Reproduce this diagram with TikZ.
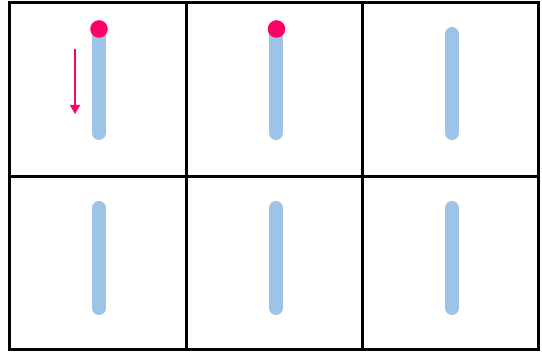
\documentclass[tikz,border=0pt]{standalone}
\usetikzlibrary{arrows.meta}
\definecolor{barblue}{HTML}{9DC3E6}
\definecolor{dotpink}{HTML}{FF0066}
\begin{document}
\begin{tikzpicture}[x=1pt,y=-1pt,
  gridline/.style={draw=black,line width=2.5pt},
  bar/.style={draw=barblue,line width=14pt,line cap=round},
  dot/.style={fill=dotpink},
  movearrow/.style={draw=dotpink,line width=1.3pt,-{Triangle[length=9pt,width=10pt]}}]
\useasboundingbox (0,0) rectangle (542,353);
\fill[white] (0,0) rectangle (542,353);
% bars
\foreach \x in {99,276,452}{
  \draw[bar] (\x,34) -- (\x,133);
  \draw[bar] (\x,208) -- (\x,308);
}
% dots
\fill[dot] (99,29) circle (8.8);
\fill[dot] (276.5,29) circle (8.8);
% arrow
\coordinate (a1) at (75,49);
\coordinate (a2) at (75,114);
\draw[movearrow] (a1) -- (a2);
% grid
\draw[gridline] (9.5,2.5) rectangle (538.5,349.5);
\draw[gridline] (186.5,2.5) -- (186.5,349.5);
\draw[gridline] (362.5,2.5) -- (362.5,349.5);
\draw[gridline] (9.5,176.5) -- (538.5,176.5);
\end{tikzpicture}
\end{document}
